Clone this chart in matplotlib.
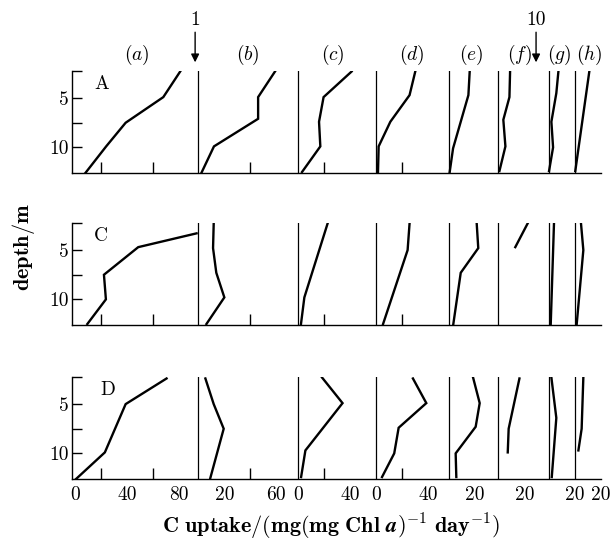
import matplotlib.pyplot as plt

plt.rcParams['font.family'] = 'cmr10'
plt.rcParams['mathtext.fontset'] = 'cm'
plt.rcParams['axes.unicode_minus'] = False

# panel layout along the shared uptake axis
panels = ['a', 'b', 'c', 'd', 'e', 'f', 'g', 'h']
offsets = [0, 95, 172, 232, 288, 326, 365, 385]
x_end = 405
tick_vals = {'a': [20, 40, 60, 80], 'b': [20, 40, 60], 'c': [20, 40], 'd': [20, 40],
             'e': [20], 'f': [20], 'g': [], 'h': [20]}
label_vals = {'a': [0, 40, 80], 'b': [20, 60], 'c': [0, 40], 'd': [0, 40],
              'e': [20], 'f': [20], 'g': [20], 'h': [20]}

rows = ['A', 'C', 'D']

# C uptake per panel, row A
uptake_A = {'a': [81, 68, 39, 24, 8], 'b': [59, 46, 46, 12, 2.3],
            'c': [41, 19.4, 15.9, 16.9, 2.8], 'd': [30, 25.6, 10.8, 1.8, 1.3],
            'e': [15.9, 14.9, 3.1, 0.5], 'f': [9, 8.5, 3.8, 5.4, 0.8],
            'g': [7.2, 5.6, 1.8, 3.1, 0], 'h': [11, 0.2]}
depth_A = {'a': [2.3, 4.9, 7.5, 9.9, 12.6], 'b': [2.3, 4.9, 7.1, 9.9, 12.6],
           'c': [2.3, 4.9, 7.4, 9.9, 12.5], 'd': [2.3, 4.7, 7.4, 9.9, 12.5],
           'e': [2.3, 4.7, 10.1, 12.5], 'f': [2.3, 4.9, 7.2, 9.9, 12.4],
           'g': [2.3, 4.5, 7.4, 10, 12.4], 'h': [2.3, 12.4]}

# row C
uptake_C = {'a': [93.6, 48.7, 22.3, 23.8, 9.5], 'b': [11.8, 11.3, 13.8, 20, 6.2],
            'c': [22.5, 4.6, 2], 'd': [25.6, 24.1, 5.2],
            'e': [21.3, 22.5, 9, 3.3], 'f': [22.5, 13],
            'g': [3.8, 1.3], 'h': [4.6, 6.4, 1.3]}
depth_C = {'a': [3.3, 4.7, 7.5, 10, 12.5], 'b': [2.3, 4.8, 7.3, 9.8, 12.5],
           'c': [2.3, 9.8, 12.5], 'd': [2.3, 5, 12.5],
           'e': [2.3, 4.8, 7.3, 12.5], 'f': [2.3, 4.7],
           'g': [2.3, 12.5], 'h': [2.3, 5, 12.5]}

# row D
uptake_D = {'a': [70.5, 39, 23, 0.8], 'b': [5.4, 11.8, 19.5, 9.2],
            'c': [18.2, 34, 5.4, 2.1], 'd': [28.2, 38.5, 17.2, 13.8, 4.4],
            'e': [18.5, 23.6, 20.5, 5.1, 5.6], 'f': [16.2, 7.9, 7.2],
            'g': [1.8, 5.6, 2.1], 'h': [6.4, 5.1, 2.6]}
depth_D = {'a': [2.4, 5, 9.9, 12.6], 'b': [2.4, 5, 7.5, 12.5],
           'c': [2.3, 4.9, 9.7, 12.4], 'd': [2.4, 4.9, 7.4, 10, 12.4],
           'e': [2.3, 4.9, 7.3, 10, 12.4], 'f': [2.4, 7.5, 9.9],
           'g': [2.3, 6.4, 12.4], 'h': [2.3, 7.5, 9.7]}

uptakes = [uptake_A, uptake_C, uptake_D]
depths = [depth_A, depth_C, depth_D]

W, H = 613, 543
fig = plt.figure(figsize=(W / 100, H / 100), dpi=100)

row_tops = [71, 223, 377]
row_h = 102
ax_left, ax_right = 72, 601
letter_x = [0.043, 0.041, 0.053]

tick_pos = []
lab_pos, lab_txt = [], []
for p, off in zip(panels, offsets):
    tick_pos += [off + v for v in tick_vals[p]]
    lab_pos += [off + v for v in label_vals[p]]
    lab_txt += [str(v) for v in label_vals[p]]

axes = []
for i, r in enumerate(rows):
    ax = fig.add_axes([ax_left / W, 1 - (row_tops[i] + row_h) / H,
                       (ax_right - ax_left) / W, row_h / H])
    axes.append(ax)
    for p, off in zip(panels, offsets):
        x = [off + v for v in uptakes[i][p]]
        ax.plot(x, depths[i][p], color='black', lw=1.7, solid_joinstyle='miter')
    for off in offsets[1:]:
        ax.axvline(off, color='black', lw=0.9)
    ax.set_xlim(-2.3, x_end)
    ax.set_ylim(12.6, 2.25)
    for s in ['top', 'right']:
        ax.spines[s].set_visible(False)
    for s in ['left', 'bottom']:
        ax.spines[s].set_linewidth(1.0)

    ax.set_yticks([5, 10])
    ax.set_yticklabels(['5', '10'], fontsize=14)
    ax.set_yticks([2.25, 7.5], minor=True)
    ax.tick_params(axis='y', which='both', direction='in', length=7, width=1.0, pad=2)

    ax.set_xticks(lab_pos)
    ax.set_xticks(tick_pos, minor=True)
    if r == 'D':
        ax.set_xticklabels(lab_txt, fontsize=14)
    else:
        ax.set_xticklabels([])
    ax.tick_params(axis='x', which='major', length=0, pad=5)
    ax.tick_params(axis='x', which='minor', direction='in', length=8, width=1.0)

    ax.text(letter_x[i], 0.87, r, transform=ax.transAxes, fontsize=14,
            ha='left', va='center')

# panel labels above the top row
axA = axes[0]
label_x = [47.7, 133, 198.5, 259, 305, 342, 373, 396]
for p, lx in zip(panels, label_x):
    axA.text(lx, 1.157, '$(%s)$' % p, transform=axA.get_xaxis_transform(),
             fontsize=14, ha='center', va='center')

# arrows marking the numbered positions
for xa, t in [(92.5, '1'), (355, '10')]:
    axA.annotate('', xy=(xa, 1.085), xycoords=axA.get_xaxis_transform(),
                 xytext=(xa, 1.38), textcoords=axA.get_xaxis_transform(),
                 arrowprops=dict(arrowstyle='-|>', color='black', lw=1.0,
                                 mutation_scale=12, shrinkA=0, shrinkB=0))
    axA.text(xa, 1.5, t, transform=axA.get_xaxis_transform(), fontsize=14,
             ha='center', va='center')

fig.text(24 / W, 1 - 247 / H, r'$\mathbf{depth/m}$', rotation=90,
         fontsize=16, ha='center', va='center')
fig.text(331 / W, 1 - 527 / H,
         r'$\mathbf{C\ uptake/(mg(mg\ Chl\ }\boldsymbol{a}\mathbf{)}^{\boldsymbol{-1}}'
         r'\mathbf{\ day}^{\boldsymbol{-1}}\mathbf{)}$',
         fontsize=16, ha='center', va='center')

fig.savefig('out.png', dpi=100)
